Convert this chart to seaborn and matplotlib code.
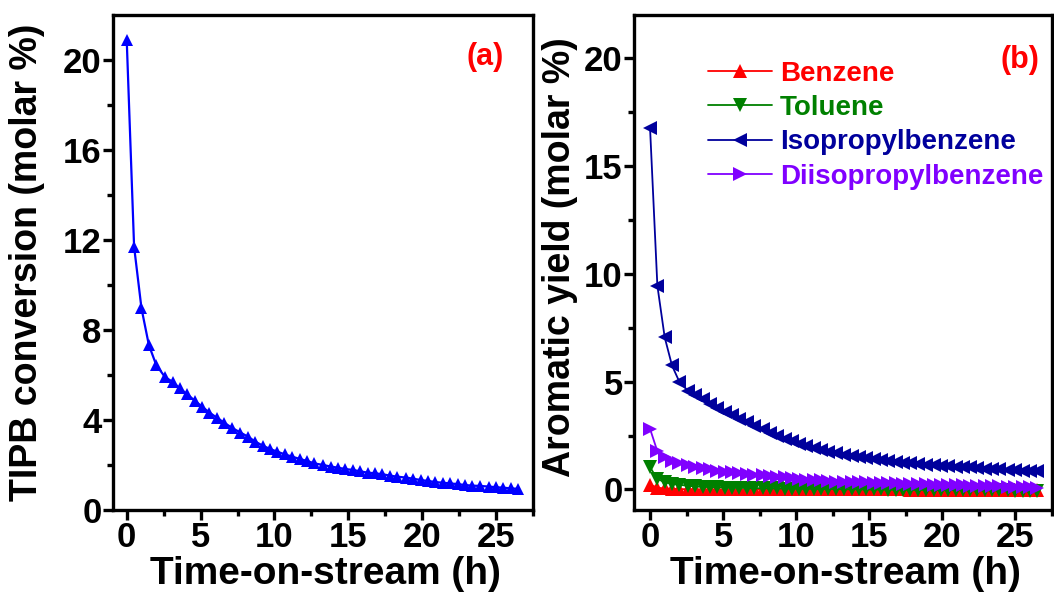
import numpy as np
import pandas as pd
import matplotlib
matplotlib.use("Agg")
import matplotlib.pyplot as plt
import seaborn as sns

# time-on-stream (h), shared by both panels
time_h = [0, 0.5, 1.0, 1.5, 2.0, 2.6, 3.1, 3.6, 4.1, 4.6,
          5.1, 5.6, 6.1, 6.6, 7.1, 7.7, 8.2, 8.7, 9.2, 9.7,
          10.2, 10.7, 11.2, 11.7, 12.2, 12.7, 13.3, 13.8, 14.3, 14.8,
          15.3, 15.8, 16.3, 16.8, 17.3, 17.8, 18.3, 18.9, 19.4, 19.9,
          20.4, 20.9, 21.4, 21.9, 22.4, 22.9, 23.4, 23.9, 24.5, 25.0,
          25.5, 26.0, 26.5]

# (a) TIPB conversion
tipb_conv = [20.9, 11.7, 8.96, 7.33, 6.44, 5.9, 5.7, 5.4, 5.14, 4.86,
             4.59, 4.33, 4.10, 3.88, 3.66, 3.44, 3.26, 3.04, 2.86, 2.71,
             2.59, 2.47, 2.37, 2.27, 2.18, 2.07, 2.0, 1.93, 1.88, 1.82,
             1.78, 1.72, 1.66, 1.63, 1.59, 1.53, 1.48, 1.44, 1.39, 1.33,
             1.29, 1.24, 1.21, 1.18, 1.15, 1.11, 1.08, 1.07, 1.04, 1.01,
             0.99, 0.96, 0.94]

# (b) aromatic yields
benzene = [0.23, 0.08, 0.05, 0.03, 0.02, 0.01, 0.01, 0.0, 0.0, 0.0,
           0.0, 0.0, 0.0, 0.0, 0.0, 0.0, 0.0, 0.0, 0.0, 0.0,
           0.0, 0.0, 0.0, 0.0, 0.0, 0.0, 0.0, 0.0, 0.0, 0.0,
           0.0, 0.0, 0.0, 0.0, 0.0, -0.01, -0.01, -0.01, -0.01, -0.01,
           -0.01, -0.01, -0.01, -0.01, -0.01, -0.01, -0.01, -0.01, -0.01, -0.01,
           -0.01, -0.01, -0.01]
toluene = [1.03, 0.49, 0.34, 0.26, 0.22, 0.17, 0.14, 0.12, 0.11, 0.10,
           0.09, 0.08, 0.08, 0.07, 0.06, 0.06, 0.05, 0.05, 0.04, 0.04,
           0.03, 0.03, 0.03, 0.02, 0.02, 0.02, 0.01, 0.01, 0.01, 0.0,
           0.0, 0.0, -0.01, -0.01, -0.01, -0.02, -0.02, -0.02, -0.02, -0.03,
           -0.03, -0.03, -0.03, -0.03, -0.04, -0.04, -0.04, -0.04, -0.04, -0.05,
           -0.05, -0.05, -0.05]
isopropylbenzene = [16.75, 9.45, 7.06, 5.75, 5.0, 4.57, 4.37, 4.18, 3.98, 3.80,
                    3.61, 3.45, 3.26, 3.11, 2.95, 2.80, 2.64, 2.49, 2.34, 2.23,
                    2.11, 2.02, 1.91, 1.83, 1.75, 1.68, 1.62, 1.56, 1.49, 1.44,
                    1.40, 1.35, 1.31, 1.28, 1.25, 1.21, 1.18, 1.15, 1.12, 1.11,
                    1.08, 1.06, 1.03, 1.02, 1.00, 0.97, 0.95, 0.94, 0.91, 0.89,
                    0.88, 0.86, 0.84]
diisopropylbenzene = [2.81, 1.77, 1.50, 1.34, 1.24, 1.14, 1.06, 1.00, 0.96, 0.88,
                      0.83, 0.79, 0.76, 0.72, 0.68, 0.65, 0.62, 0.59, 0.56, 0.52,
                      0.49, 0.46, 0.45, 0.42, 0.40, 0.37, 0.36, 0.35, 0.34, 0.33,
                      0.32, 0.31, 0.29, 0.28, 0.27, 0.26, 0.25, 0.24, 0.23, 0.22,
                      0.21, 0.20, 0.19, 0.18, 0.17, 0.16, 0.15, 0.14, 0.13, 0.12,
                      0.11, 0.10, 0.09]

series_names = ["Benzene", "Toluene", "Isopropylbenzene", "Diisopropylbenzene"]
series_vals = [benzene, toluene, isopropylbenzene, diisopropylbenzene]
series_colors = ["#FF0000", "#008000", "#00009C", "#8000FF"]
series_markers = ["^", "v", "<", ">"]

sns.set_style("ticks")
plt.rcParams["font.family"] = ["Liberation Sans", "DejaVu Sans"]
plt.rcParams["font.weight"] = "bold"
plt.rcParams["axes.labelweight"] = "bold"
plt.rcParams["text.color"] = "black"
plt.rcParams["axes.labelcolor"] = "black"
plt.rcParams["xtick.color"] = "black"
plt.rcParams["ytick.color"] = "black"

fig = plt.figure(figsize=(10.54, 5.98), dpi=100)
ax1 = fig.add_axes([0.1069, 0.1472, 0.3988, 0.8278])
ax2 = fig.add_axes([0.6015, 0.1472, 0.3966, 0.8278])

# panel (a)
df_a = pd.DataFrame({"t": time_h, "conv": tipb_conv})
sns.lineplot(data=df_a, x="t", y="conv", ax=ax1, color="#0000FF", marker="^",
             markersize=9, markeredgewidth=0, linewidth=1.6)

# panel (b)
df_b = pd.DataFrame({"t": time_h * 4,
                     "yield": sum(series_vals, []),
                     "series": [n for n in series_names for _ in time_h]})
for name, col, mk in zip(series_names, series_colors, series_markers):
    sub = df_b[df_b["series"] == name]
    sns.lineplot(data=sub, x="t", y="yield", ax=ax2, color=col, marker=mk,
                 markersize=10, markeredgewidth=0, linewidth=1.3, label=name)

ax1.set_xlim(-0.95, 27.5)
ax1.set_ylim(0, 22)
ax1.set_yticks([0, 4, 8, 12, 16, 20])
ax1.set_yticks([2, 6, 10, 14, 18], minor=True)
ax1.set_ylabel("TIPB conversion (molar %)", fontsize=27)
ax1.yaxis.set_label_coords(-0.16, 0.5)

ax2.set_xlim(-1.1, 27.3)
ax2.set_ylim(-0.95, 22)
ax2.set_yticks([0, 5, 10, 15, 20])
ax2.set_yticks([2.5, 7.5, 12.5, 17.5], minor=True)
ax2.set_ylabel("Aromatic yield (molar %)", fontsize=27)
ax2.yaxis.set_label_coords(-0.135, 0.51)

for ax in (ax1, ax2):
    ax.set_xticks([0, 5, 10, 15, 20, 25])
    ax.set_xticks([2.5, 7.5, 12.5, 17.5, 22.5, 27.5], minor=True)
    ax.set_xlabel("Time-on-stream (h)", fontsize=28)
    ax.xaxis.set_label_coords(0.505, -0.092)
    for s in ax.spines.values():
        s.set_linewidth(2.4)
        s.set_color("black")
    ax.tick_params(which="major", direction="out", length=7, width=2.4,
                   labelsize=25, pad=1, colors="black")
    ax.tick_params(which="minor", direction="out", length=4.5, width=2.4,
                   colors="black")
    ax.tick_params(top=False, right=False, which="both")
    for lab in ax.get_xticklabels() + ax.get_yticklabels():
        lab.set_fontweight("bold")

ax1.text(0.93, 0.915, "(a)", transform=ax1.transAxes, color="red",
         fontsize=22, fontweight="bold", ha="right", va="center")
ax2.text(0.97, 0.91, "(b)", transform=ax2.transAxes, color="red",
         fontsize=22, fontweight="bold", ha="right", va="center")

leg = ax2.legend(loc="upper left", bbox_to_anchor=(0.15, 0.93), frameon=False,
                 labelcolor="linecolor", handlelength=2.3, handletextpad=0.3,
                 labelspacing=0.3, borderaxespad=0,
                 prop={"size": 20, "weight": "bold"})

fig.savefig("out.png", dpi=100)
